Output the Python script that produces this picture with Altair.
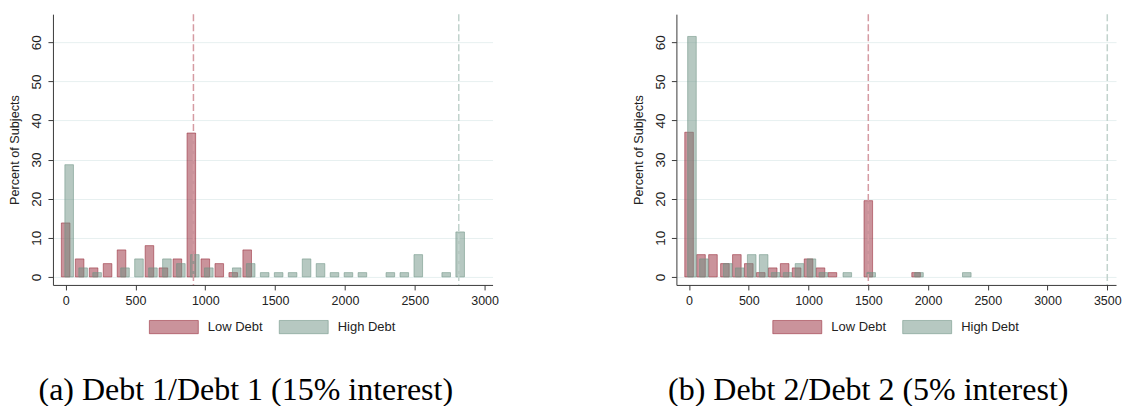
import altair as alt
import pandas as pd

GROUPS = ["Low Debt", "High Debt"]

# Panel (a): Debt 1/Debt 1, 15% interest -- percent of subjects per 100-unit bin
A_LOW_BINS = [0, 100, 200, 300, 400, 600, 700, 800, 900, 1000, 1100, 1200, 1300]
A_LOW_PCT = [13.8, 4.6, 2.3, 3.4, 6.9, 8.0, 2.3, 4.6, 36.8, 4.6, 3.4, 1.1, 6.9]
A_HIGH_BINS = [0, 100, 200, 400, 500, 600, 700, 800, 900, 1000, 1200, 1300, 1400,
               1500, 1600, 1700, 1800, 1900, 2000, 2100, 2300, 2400, 2500, 2700, 2800]
A_HIGH_PCT = [28.7, 2.3, 1.1, 2.3, 4.6, 2.3, 4.6, 3.4, 5.7, 2.3, 2.3, 3.4, 1.1,
              1.1, 1.1, 4.6, 3.4, 1.1, 1.1, 1.1, 1.1, 1.1, 5.7, 1.1, 11.5]
A_DEBT = [915, 2815]          # debt levels (low, high)
A_TICKS = [0, 500, 1000, 1500, 2000, 2500, 3000]

# Panel (b): Debt 2/Debt 2, 5% interest
B_LOW_BINS = [0, 100, 200, 300, 400, 500, 600, 700, 800, 900, 1000, 1100, 1200, 1500, 1900]
B_LOW_PCT = [37.0, 5.7, 5.7, 3.4, 5.7, 3.4, 1.1, 2.3, 3.4, 2.3, 4.6, 2.3, 1.1, 19.5, 1.1]
B_HIGH_BINS = [0, 100, 300, 400, 500, 600, 700, 800, 900, 1000, 1100, 1300, 1500, 1900, 2300]
B_HIGH_PCT = [61.5, 4.6, 3.4, 2.3, 5.7, 5.7, 1.1, 1.1, 3.4, 4.6, 1.1, 1.1, 1.1, 1.1, 1.1]
B_DEBT = [1500, 3500]
B_TICKS = [0, 500, 1000, 1500, 2000, 2500, 3000, 3500]

Y_TICKS = [0, 10, 20, 30, 40, 50, 60]

FILL = ["rgba(150,40,55,0.5)", "rgba(110,146,132,0.5)"]
EDGE = ["rgba(150,40,55,0.55)", "rgba(110,146,132,0.55)"]
RULE = ["#d59ba3", "#c2d3cd"]
SWATCH = "M-1,-0.27L1,-0.27L1,0.27L-1,0.27Z"
SANS = "Liberation Sans"


def legend():
    return alt.Legend(
        title=None, orient="none", legendX=96, legendY=288, direction="horizontal",
        symbolType=SWATCH, symbolSize=2401, symbolStrokeWidth=1,
        labelFont=SANS, labelFontSize=13, labelColor="#222", labelOffset=9,
        columnPadding=14, padding=0,
    )


def panel(low_bins, low_pct, high_bins, high_pct, debt, x_domain, x_ticks,
          caption, caption_dx, shift):
    low = pd.DataFrame({"bin": low_bins, "pct": low_pct, "group": GROUPS[0]})
    high = pd.DataFrame({"bin": high_bins, "pct": high_pct, "group": GROUPS[1]})
    refs = pd.DataFrame({"value": debt, "group": GROUPS})

    x = alt.X("bin:Q", scale=alt.Scale(domain=x_domain, nice=False, zero=False, padding=0),
              axis=alt.Axis(values=x_ticks, title=None, grid=False, labelFlush=False,
                            format="d", labelFontSize=12.5, labelPadding=5))
    y = alt.Y("pct:Q", scale=alt.Scale(domain=[-2.05, 67.2], nice=False, zero=False),
              axis=alt.Axis(values=Y_TICKS, title="Percent of Subjects", labelAngle=270,
                            labelAlign="center", labelBaseline="bottom",
                            labelFontSize=13.5, labelPadding=4, titlePadding=8,
                            grid=True, gridColor="#e7f0f0", gridWidth=1))
    fill = alt.Fill("group:N", scale=alt.Scale(domain=GROUPS, range=FILL), legend=legend())
    stroke = alt.Stroke("group:N", scale=alt.Scale(domain=GROUPS, range=EDGE), legend=legend())

    low_bars = alt.Chart(low).mark_bar(size=8.6, strokeWidth=1).encode(
        x=x, y=y, y2=alt.datum(0), fill=fill, stroke=stroke)
    high_bars = alt.Chart(high).mark_bar(size=8.6, strokeWidth=1, xOffset=shift).encode(
        x=x, y=y, y2=alt.datum(0), fill=fill, stroke=stroke)
    rules = alt.Chart(refs).mark_rule(strokeDash=[7, 3], strokeWidth=1.5).encode(
        x=alt.X("value:Q"),
        color=alt.Color("group:N", scale=alt.Scale(domain=GROUPS, range=RULE), legend=None))

    return alt.layer(low_bars, high_bars, rules).properties(
        width=440, height=271,
        title=alt.TitleParams(caption, orient="bottom", font="Liberation Serif",
                              fontSize=32, fontWeight="normal", color="black",
                              offset=39, dx=caption_dx, anchor="middle"),
    )


left = panel(A_LOW_BINS, A_LOW_PCT, A_HIGH_BINS, A_HIGH_PCT, A_DEBT, [-91, 3057], A_TICKS,
             "(a) Debt 1/Debt 1 (15% interest)", -27, 3.5)
right = panel(B_LOW_BINS, B_LOW_PCT, B_HIGH_BINS, B_HIGH_PCT, B_DEBT, [-106, 3573], B_TICKS,
              "(b) Debt 2/Debt 2 (5% interest)", -28, 2.9)

chart = alt.hconcat(left, right, spacing=134).resolve_scale(
    x="independent", fill="independent", stroke="independent", color="independent"
).resolve_legend(fill="independent", stroke="independent").properties(
    padding={"left": 9, "top": 13, "right": 0, "bottom": 0}
).configure_view(stroke=None).configure_axis(
    domainColor="#3a3a3a", tickColor="#3a3a3a", tickSize=5, labelColor="#222",
    labelFont=SANS, titleFont=SANS, titleFontSize=12.7, titleFontWeight="normal",
    titleColor="#222",
)

chart.save("out.html", embed_options={"renderer": "svg", "actions": False})
